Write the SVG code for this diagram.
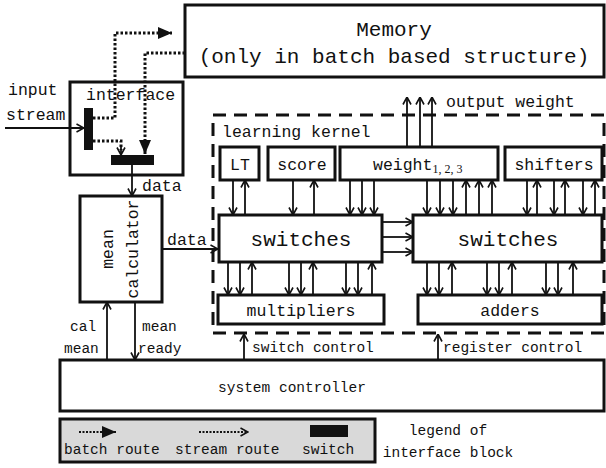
<svg xmlns="http://www.w3.org/2000/svg" width="606" height="468" viewBox="0 0 606 468">
<defs>
<style>
text{font-family:"Liberation Mono","DejaVu Sans Mono",monospace;fill:#111}
.box{fill:#fff;stroke:#111;stroke-width:3}
.big{font-size:21px}
.mid{font-size:16.5px}
.sm{font-size:14.5px}
.c{text-anchor:middle}
.a{stroke:#111;stroke-width:1.8;fill:none;marker-end:url(#open)}
.ln{stroke:#111;stroke-width:1.8;fill:none}
.dot{stroke:#111;stroke-width:3;fill:none;stroke-dasharray:2.5 2}
.dash{fill:none;stroke:#111;stroke-width:3;stroke-dasharray:13 8}
.sw{fill:#111}
</style>
<marker id="open" viewBox="0 0 10 10" refX="9.5" refY="5" markerWidth="10" markerHeight="10" markerUnits="userSpaceOnUse" orient="auto">
<path d="M2,1 L9.5,5 L2,9" fill="none" stroke="#111" stroke-width="1.6"/>
</marker>
<marker id="tri" viewBox="0 0 14 12" refX="14" refY="6" markerWidth="14" markerHeight="12" markerUnits="userSpaceOnUse" orient="auto">
<path d="M0,0 L14,6 L0,12 z" fill="#111"/>
</marker>
</defs>
<rect width="606" height="468" fill="#fff"/>

<g id="memory">
<rect class="box" x="185" y="5" width="419" height="72"/>
<text class="big c" x="394" y="36">Memory</text>
<text class="big c" x="394" y="63">(only in batch based structure)</text>
</g>

<g id="interface">
<rect class="box" x="70" y="82" width="113" height="93"/>
<text class="mid" x="86" y="100">interface</text>
<rect class="sw" x="84" y="108" width="9" height="42"/>
<rect class="sw" x="111" y="155" width="43" height="10"/>
</g>

<g id="input-label">
<text class="mid" x="8" y="95">input</text>
<text class="mid" x="6" y="120">stream</text>
</g>

<g id="mean-calculator">
<rect class="box" x="80" y="196" width="82" height="106"/>
<text class="mid c" transform="translate(113,249) rotate(-90)">mean</text>
<text class="mid c" transform="translate(138,249) rotate(-90)">calculator</text>
</g>

<g id="learning-kernel">
<rect class="dash" x="213" y="115" width="391" height="218"/>
<text class="mid" x="222" y="137">learning kernel</text>
</g>

<g id="lt"><rect class="box" x="220" y="147" width="39" height="33"/><text class="mid c" x="240" y="170">LT</text></g>
<g id="score"><rect class="box" x="268" y="147" width="67" height="33"/><text class="mid c" x="302" y="170">score</text></g>
<g id="weight"><rect class="box" x="340" y="147" width="158" height="33"/><text class="mid" x="373" y="170">weight<tspan font-family="Liberation Serif, serif" font-size="12" dy="3">1, 2, 3</tspan></text></g>
<g id="shifters"><rect class="box" x="505" y="147" width="97" height="33"/><text class="mid c" x="554" y="170">shifters</text></g>

<g id="switches-left"><rect class="box" x="219" y="215" width="163" height="47"/><text class="big c" x="301" y="246">switches</text></g>
<g id="switches-right"><rect class="box" x="413" y="215" width="189" height="47"/><text class="big c" x="508" y="246">switches</text></g>

<g id="multipliers"><rect class="box" x="218" y="295" width="166" height="29"/><text class="mid c" x="301" y="316">multipliers</text></g>
<g id="adders"><rect class="box" x="418" y="295" width="184" height="29"/><text class="mid c" x="510" y="316">adders</text></g>

<g id="system-controller">
<rect class="box" x="60" y="360" width="544" height="51"/>
<text class="sm c" x="292" y="392">system controller</text>
</g>

<g id="legend">
<rect x="60" y="419" width="315" height="43" fill="#d9d9d9" stroke="#111" stroke-width="3"/>
<path d="M79,432 H116" stroke="#111" stroke-width="2" stroke-dasharray="2 1.5" fill="none" marker-end="url(#tri)"/>
<path d="M199,432 H248" stroke="#111" stroke-width="2" stroke-dasharray="2 1.5" fill="none" marker-end="url(#open)"/>
<rect class="sw" x="310" y="425" width="38" height="12"/>
<text class="sm" x="64" y="454">batch route</text>
<text class="sm" x="175" y="454">stream route</text>
<text class="sm" x="302" y="454">switch</text>
<text class="sm c" x="448" y="435">legend of</text>
<text class="sm c" x="448" y="457">interface block</text>
</g>

<g id="connectors">
<!-- interface -->
<path class="a" d="M5,128 H84"/>
<path class="dot" d="M93,118 H115 V33 H172" marker-end="url(#tri)"/>
<path class="dot" d="M185,53 H145 V142" />
<path d="M145,140 V154" stroke="#111" stroke-width="3" fill="none" marker-end="url(#tri)"/>
<path class="dot" d="M93,141 H121 V150"/>
<path class="a" d="M121,146 V155"/>
<path class="a" d="M132,165 V196"/>
<text class="mid" x="142" y="191">data</text>
<!-- mean calc -->
<path class="a" d="M162,249 H218"/>
<text class="mid" x="167" y="245">data</text>
<path class="a" d="M107,360 V302"/>
<path class="a" d="M135,302 V360"/>
<text class="sm" x="70" y="331">cal</text>
<text class="sm" x="64" y="353">mean</text>
<text class="sm" x="142" y="331">mean</text>
<text class="sm" x="138" y="353">ready</text>
<!-- top boxes to switches -->
<path class="a" d="M233,180 V215"/><path class="a" d="M245,215 V180"/>
<path class="a" d="M293,180 V215"/><path class="a" d="M314,215 V180"/>
<path class="a" d="M350,180 V215"/><path class="a" d="M362,180 V215"/><path class="a" d="M374,180 V215"/>
<path class="a" d="M427,180 V215"/><path class="a" d="M440,180 V215"/><path class="a" d="M453,180 V215"/>
<path class="a" d="M466,215 V180"/><path class="a" d="M479,215 V180"/><path class="a" d="M492,215 V180"/>
<path class="a" d="M527,180 V215"/><path class="a" d="M537,215 V180"/>
<path class="a" d="M554,180 V215"/><path class="a" d="M565,215 V180"/>
<path class="a" d="M583,180 V215"/><path class="a" d="M595,215 V180"/>
<!-- output weight -->
<path class="a" d="M407,147 V97"/><path class="a" d="M420,147 V97"/><path class="a" d="M432,147 V97"/>
<text class="mid" x="446" y="107">output weight</text>
<!-- switches to switches -->
<path class="a" d="M382,222 H413"/><path class="a" d="M382,237 H413"/><path class="a" d="M382,252 H413"/>
<!-- switches to multipliers -->
<path class="a" d="M228,262 V295"/><path class="a" d="M240,262 V295"/><path class="a" d="M252,295 V262"/>
<path class="a" d="M289,262 V295"/><path class="a" d="M301,262 V295"/><path class="a" d="M313,295 V262"/>
<path class="a" d="M346,262 V295"/><path class="a" d="M358,262 V295"/><path class="a" d="M372,295 V262"/>
<!-- switches to adders -->
<path class="a" d="M427,262 V295"/><path class="a" d="M439,262 V295"/><path class="a" d="M452,295 V262"/>
<path class="a" d="M487,262 V295"/><path class="a" d="M499,262 V295"/><path class="a" d="M512,295 V262"/>
<path class="a" d="M546,262 V295"/><path class="a" d="M558,262 V295"/><path class="a" d="M573,295 V262"/>
<!-- controls -->
<path class="a" d="M244,360 V334"/>
<text class="sm" x="252" y="352">switch control</text>
<path class="a" d="M438,360 V334"/>
<text class="sm" x="443" y="352">register control</text>
</g>
</svg>
